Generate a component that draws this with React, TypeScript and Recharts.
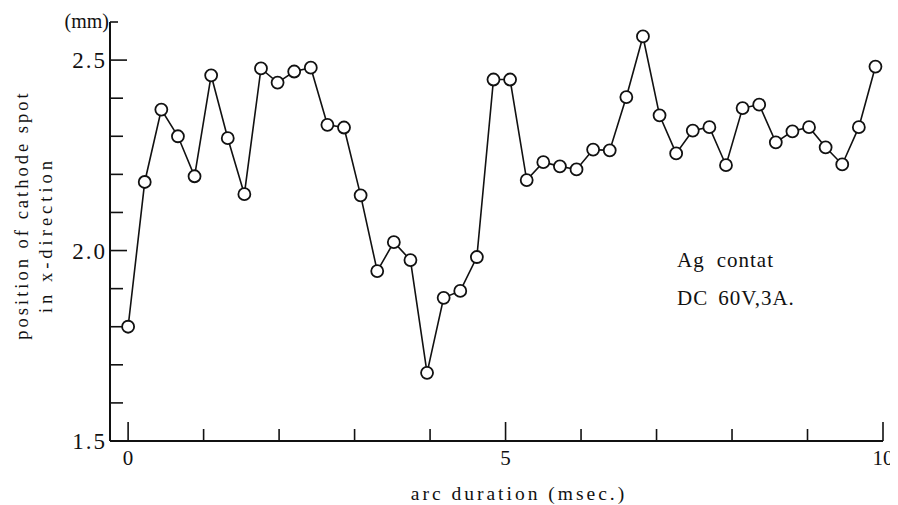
import { LineChart, Line, XAxis, YAxis, Customized } from 'recharts'

// arc duration (msec.)
const times = [
  0, 0.22, 0.44, 0.66, 0.88, 1.1, 1.32, 1.54, 1.76, 1.98, 2.2, 2.42, 2.64, 2.86, 3.08, 3.3,
  3.52, 3.74, 3.96, 4.18, 4.4, 4.62, 4.84, 5.06, 5.28, 5.5, 5.72, 5.94, 6.16, 6.38, 6.6,
  6.82, 7.04, 7.26, 7.48, 7.7, 7.92, 8.14, 8.36, 8.58, 8.8, 9.02, 9.24, 9.46, 9.68, 9.9,
]

// position of cathode spot in x-direction (mm)
const positions = [
  1.8, 2.18, 2.37, 2.3, 2.195, 2.46, 2.295, 2.148, 2.478, 2.441, 2.47, 2.48, 2.33, 2.323,
  2.145, 1.946, 2.022, 1.975, 1.679, 1.876, 1.894, 1.983, 2.449, 2.449, 2.185, 2.232, 2.221,
  2.213, 2.265, 2.263, 2.403, 2.562, 2.355, 2.255, 2.315, 2.324, 2.224, 2.374, 2.383, 2.284,
  2.313, 2.324, 2.271, 2.226, 2.324, 2.483,
]

const xTicks = [0, 1, 2, 3, 4, 5, 6, 7, 8, 9, 10]
const xMajor = [0, 5, 10]
const yTicks = [1.5, 1.6, 1.7, 1.8, 1.9, 2.0, 2.1, 2.2, 2.3, 2.4, 2.5, 2.6]
const yTickLabels: Record<string, string> = { '1.5': '1.5', '2.0': '2.0', '2.5': '2.5', '2.6': '(mm)' }

const data = times.map((t, i) => ({ t, pos: positions[i] }))

const FONT = '"Liberation Serif", "DejaVu Serif", serif'
const INK = '#111'

function XTick(props: any) {
  const { x, y, payload } = props
  const v = payload.value
  const major = xMajor.includes(v)
  return (
    <g>
      <line x1={x} x2={x} y1={y} y2={y - (major ? 19 : 12)} stroke={INK} strokeWidth={1.6} />
      {major && (
        <text x={x} y={y + 24} textAnchor="middle" fontSize={21} fontFamily={FONT} fill={INK}>
          {v}
        </text>
      )}
    </g>
  )
}

function YTick(props: any) {
  const { x, y, payload } = props
  const key = Number(payload.value).toFixed(1)
  const label = yTickLabels[key]
  const isUnit = key === '2.6'
  const len = isUnit ? 8 : label ? 17 : 13
  return (
    <g>
      <line x1={x} x2={x + len} y1={y} y2={y} stroke={INK} strokeWidth={1.6} />
      {label && (
        <text
          x={isUnit ? x - 1 : x - 3}
          y={y + (isUnit ? 6 : 8)}
          textAnchor="end"
          fontSize={isUnit ? 20 : 23}
          letterSpacing={isUnit ? 0 : 2}
          fontFamily={FONT}
          fill={INK}
        >
          {label}
        </text>
      )}
    </g>
  )
}

function Titles() {
  return (
    <g fontFamily={FONT} fill={INK}>
      <text transform="translate(28,215) rotate(-90)" textAnchor="middle" fontSize={18.5} letterSpacing={3}>
        position of cathode spot
      </text>
      <text transform="translate(52,235) rotate(-90)" textAnchor="middle" fontSize={18.5} letterSpacing={4}>
        in x-direction
      </text>
      <text x={519} y={500} textAnchor="middle" fontSize={19.5} letterSpacing={3}>
        arc duration (msec.)
      </text>
    </g>
  )
}

function Note() {
  return (
    <g fontFamily={FONT} fontSize={21} fill={INK} letterSpacing={1}>
      <text x={677} y={267}>
        <tspan>Ag</tspan>
        <tspan dx={12}>contat</tspan>
      </text>
      <text x={677} y={305}>
        <tspan>DC</tspan>
        <tspan dx={10}>60V,3A.</tspan>
      </text>
    </g>
  )
}

export default function App() {
  return (
    <div style={{ margin: '-8px 0 0 -8px', width: 898, height: 505 }}>
      <LineChart
        width={898}
        height={505}
        data={data}
        margin={{ top: 22, right: 15, left: 50, bottom: 24 }}
        style={{ background: '#fff' }}
      >
        <XAxis
          dataKey="t"
          type="number"
          domain={[-0.24, 10]}
          ticks={xTicks}
          interval={0}
          allowDataOverflow
          height={40}
          tickSize={0}
          tickMargin={0}
          tickLine={false}
          tick={<XTick />}
          axisLine={{ stroke: INK, strokeWidth: 2 }}
        />
        <YAxis
          type="number"
          domain={[1.5, 2.6]}
          ticks={yTicks}
          interval={0}
          allowDataOverflow
          width={60}
          tickSize={0}
          tickMargin={0}
          tickLine={false}
          tick={<YTick />}
          axisLine={{ stroke: INK, strokeWidth: 2 }}
        />
        <Line
          dataKey="pos"
          stroke={INK}
          strokeWidth={1.6}
          dot={{ r: 6, fill: '#fff', stroke: INK, strokeWidth: 1.8 }}
          isAnimationActive={false}
        />
        <Customized component={Titles} />
        <Customized component={Note} />
      </LineChart>
    </div>
  )
}
